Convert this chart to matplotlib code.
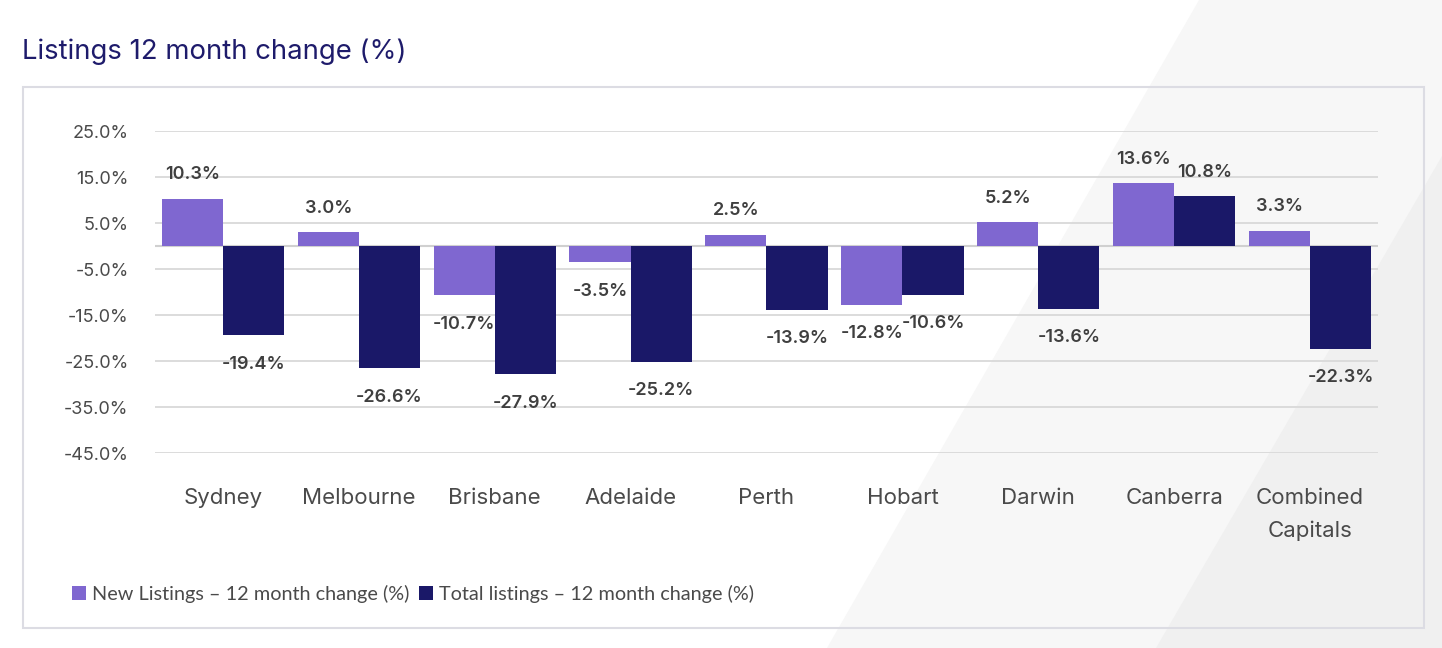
import numpy as np
import matplotlib
matplotlib.use('Agg')
import matplotlib.pyplot as plt
from matplotlib.patches import Rectangle, Polygon

cities = ['Sydney', 'Melbourne', 'Brisbane', 'Adelaide', 'Perth',
          'Hobart', 'Darwin', 'Canberra', 'Combined\nCapitals']
new_listings = [10.3, 3.0, -10.7, -3.5, 2.5, -12.8, 5.2, 13.6, 3.3]
total_listings = [-19.4, -26.6, -27.9, -25.2, -13.9, -10.6, -13.6, 10.8, -22.3]
y_ticks = [25, 15, 5, -5, -15, -25, -35, -45]

new_color = '#7F67D0'
total_color = '#1A1868'
text_color = '#4A4A4A'

plt.rcParams['font.family'] = ['Inter', 'DejaVu Sans']

fig = plt.figure(figsize=(14.42, 6.48), dpi=100)
fig.patch.set_facecolor('white')

# Diagonal background shading on the right
fig.patches.append(Polygon([(1199/1442, 1), (1, 1), (1, 0), (827/1442, 0)],
                           closed=True, transform=fig.transFigure,
                           facecolor='#F7F7F7', edgecolor='none', zorder=-3))
fig.patches.append(Polygon([(1, 1 - 156/648), (1, 0), (1156/1442, 0)],
                           closed=True, transform=fig.transFigure,
                           facecolor='#F0F0F0', edgecolor='none', zorder=-2))

# Frame round the chart
fig.patches.append(Rectangle((23/1442, 1 - 628/648), (1424 - 23)/1442, (628 - 87)/648,
                             transform=fig.transFigure, facecolor='none',
                             edgecolor='#DCDCE3', linewidth=1.5, zorder=-1))

fig.text(22/1442, 1 - 52/648, 'Listings 12 month change (%)', fontsize=19.8,
         color='#1E1B6B', ha='left', va='center')

ax = fig.add_axes([155/1442, 1 - 453/648, (1378 - 155)/1442, (453 - 131)/648])
ax.set_facecolor('none')

x = np.arange(len(cities))
w = 0.45
b1 = ax.bar(x - w/2, new_listings, w, color=new_color, zorder=3,
            label='New Listings – 12 month change (%)')
b2 = ax.bar(x + w/2, total_listings, w, color=total_color, zorder=3,
            label='Total listings – 12 month change (%)')

for bars, vals in [(b1, new_listings), (b2, total_listings)]:
    for bar, v in zip(bars, vals):
        cx = bar.get_x() + bar.get_width() / 2
        off = 24 if v >= 0 else -29
        ax.annotate(f'{v:.1f}%', (cx, v), xytext=(0, off), textcoords='offset pixels',
                    ha='center', va='center', fontsize=13, color='#3F3F3F',
                    fontweight='semibold', zorder=4)

ax.set_xlim(-0.5, len(cities) - 0.5)
ax.set_ylim(-45, 25)
ax.set_yticks(y_ticks)
ax.set_yticklabels([f'{t:.1f}%' for t in y_ticks])
ax.set_xticks(x)
ax.set_xticklabels(cities, linespacing=1.75)
ax.grid(axis='y', color='#D9D9D9', linewidth=1.3, zorder=0)
ax.axhline(0, color='#D0D0D0', linewidth=1.5, zorder=1)
for s in ax.spines.values():
    s.set_visible(False)
ax.tick_params(axis='y', length=0, pad=19, labelsize=13, labelcolor=text_color)
ax.tick_params(axis='x', length=0, pad=25, labelsize=16, labelcolor=text_color)
for lab in ax.get_xticklabels():
    lab.set_verticalalignment('top')

leg = fig.legend(handles=[b1, b2], loc='center left',
                 bbox_to_anchor=(54/1442, 1 - 594/648), ncol=2, frameon=False,
                 handlelength=0.7, handleheight=0.7, handletextpad=0.3,
                 columnspacing=0.5, prop={'family': ['Lato', 'DejaVu Sans'], 'size': 14.3})
for t in leg.get_texts():
    t.set_color(text_color)

fig.savefig('out.png', dpi=100)
